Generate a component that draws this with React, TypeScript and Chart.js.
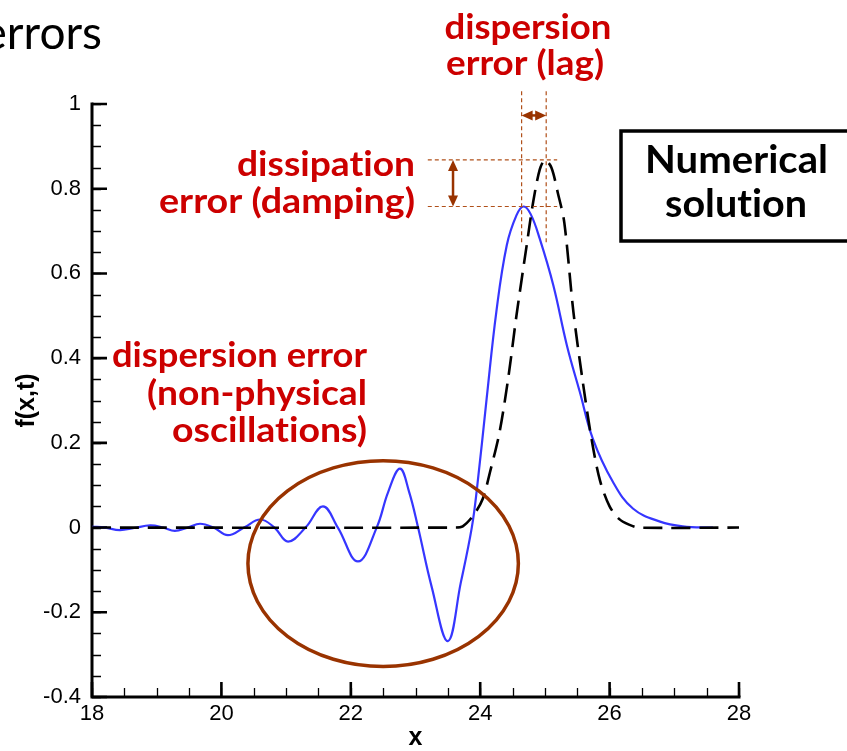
import React, { useEffect, useRef } from "react";
import { Chart, registerables } from "chart.js";
Chart.register(...registerables);

// ---- data ----
const numericalX = [18.0, 18.2, 18.43, 18.65, 18.9, 19.1, 19.28, 19.48, 19.67, 19.88, 20.1, 20.35, 20.6, 20.82, 21.03, 21.3, 21.57, 21.8, 22.11, 22.4, 22.58, 22.76, 22.9, 23.04, 23.25, 23.5, 23.7, 23.87, 23.95, 24.1, 24.25, 24.41, 24.56, 24.67, 24.78, 24.92, 25.13, 25.34, 25.54, 25.74, 26.05, 26.36, 26.78, 27.13, 27.6];
const numericalY = [0.002, 0.0, -0.006, -0.001, 0.005, 0.0, -0.008, 0.0, 0.009, 0.0, -0.018, 0.0, 0.019, 0.0, -0.033, 0.0, 0.05, 0.0, -0.08, 0.0, 0.085, 0.139, 0.085, 0.0, -0.14, -0.268, -0.13, 0.0, 0.092, 0.305, 0.51, 0.666, 0.737, 0.758, 0.74, 0.682, 0.572, 0.43, 0.32, 0.21, 0.108, 0.045, 0.014, 0.003, 0.0];
const exactX = [18, 23.6, 23.73, 23.9, 24.04, 24.15, 24.3, 24.44, 24.56, 24.72, 24.82, 24.92, 25.0, 25.1, 25.2, 25.3, 25.44, 25.58, 25.72, 25.85, 26.0, 26.15, 26.3, 26.45, 28];
const exactY = [0, 0, 0.003, 0.03, 0.068, 0.13, 0.226, 0.36, 0.5, 0.668, 0.77, 0.845, 0.868, 0.85, 0.79, 0.72, 0.51, 0.35, 0.21, 0.112, 0.05, 0.02, 0.007, 0, 0];

const xTickValues = [18, 20, 22, 24, 26, 28];
const yTickValues = [-0.4, -0.2, 0, 0.2, 0.4, 0.6, 0.8, 1];
const X_MIN = 18, X_MAX = 28, X_MINOR = 0.5;
const Y_MIN = -0.4, Y_MAX = 1, Y_MINOR = 0.05;

// annotation anchors in data units
const ellipseCenter = [22.5, -0.085];
const ellipseRadii = [2.09, 0.243];
const peakExact = 0.868;
const peakNumerical = 0.758;
const peakExactX = 25.02;
const peakNumericalX = 24.64;

const TICK_FONT = "'Liberation Sans', Arial, sans-serif";
const RED = "#cc0000";
const BROWN = "#993300";

function noLig(t: string) {
  return t.replace(/t(?=i)/g, "t\u200C").replace(/f(?=[il])/g, "f\u200C");
}

function fitText(ctx: CanvasRenderingContext2D, text: string, x: number, y: number, align: string, width: number, font: string, color: string) {
  ctx.save();
  ctx.font = font;
  ctx.fillStyle = color;
  ctx.textAlign = "left";
  ctx.textBaseline = "alphabetic";
  const s = noLig(text);
  const w = ctx.measureText(s).width;
  const sx = width / w;
  const left = align === "right" ? x - width : align === "center" ? x - width / 2 : x;
  ctx.translate(left, y);
  ctx.scale(sx, 1);
  ctx.fillText(s, 0, 0);
  ctx.restore();
}

function arrowHead(ctx: CanvasRenderingContext2D, tipX: number, tipY: number, dx: number, dy: number, len: number, half: number) {
  const px = -dy, py = dx;
  ctx.beginPath();
  ctx.moveTo(tipX, tipY);
  ctx.lineTo(tipX - dx * len + px * half, tipY - dy * len + py * half);
  ctx.lineTo(tipX - dx * len - px * half, tipY - dy * len - py * half);
  ctx.closePath();
  ctx.fill();
}

function doubleArrow(ctx: CanvasRenderingContext2D, x1: number, y1: number, x2: number, y2: number) {
  const L = Math.hypot(x2 - x1, y2 - y1);
  const dx = (x2 - x1) / L, dy = (y2 - y1) / L;
  ctx.save();
  ctx.strokeStyle = BROWN;
  ctx.fillStyle = BROWN;
  ctx.lineWidth = 2.5;
  ctx.beginPath();
  ctx.moveTo(x1 + dx * 6, y1 + dy * 6);
  ctx.lineTo(x2 - dx * 6, y2 - dy * 6);
  ctx.stroke();
  arrowHead(ctx, x2, y2, dx, dy, 11, 5);
  arrowHead(ctx, x1, y1, -dx, -dy, 11, 5);
  ctx.restore();
}

const axesPlugin = {
  id: "axesInward",
  beforeDatasetsDraw(chart: any) {
    const { ctx, chartArea: ca, scales } = chart;
    const xs = scales.x, ys = scales.y;
    ctx.save();
    ctx.strokeStyle = "#000";
    // minor ticks
    ctx.lineWidth = 1.3;
    ctx.beginPath();
    for (let v = X_MIN; v <= X_MAX + 1e-9; v += X_MINOR) {
      const p = Math.round(xs.getPixelForValue(v)) + 0.5;
      ctx.moveTo(p, ca.bottom);
      ctx.lineTo(p, ca.bottom - 9);
    }
    for (let v = Y_MIN; v <= Y_MAX + 1e-9; v += Y_MINOR) {
      const p = Math.round(ys.getPixelForValue(v)) + 0.5;
      ctx.moveTo(ca.left, p);
      ctx.lineTo(ca.left + 9, p);
    }
    ctx.stroke();
    // major ticks
    ctx.lineWidth = 2.6;
    ctx.beginPath();
    xTickValues.forEach((v) => {
      const p = xs.getPixelForValue(v);
      ctx.moveTo(p, ca.bottom);
      ctx.lineTo(p, ca.bottom - 15);
    });
    yTickValues.forEach((v) => {
      const p = ys.getPixelForValue(v);
      ctx.moveTo(ca.left, p);
      ctx.lineTo(ca.left + 15, p);
    });
    ctx.stroke();
    // axis lines
    ctx.lineWidth = 3;
    ctx.lineCap = "square";
    ctx.beginPath();
    ctx.moveTo(ca.left, ca.top);
    ctx.lineTo(ca.left, ca.bottom);
    ctx.lineTo(ca.right, ca.bottom);
    ctx.stroke();
    ctx.restore();
  },
  afterDatasetsDraw(chart: any) {
    const { ctx, scales } = chart;
    const xs = scales.x, ys = scales.y;
    const X = (v: number) => xs.getPixelForValue(v);
    const Y = (v: number) => ys.getPixelForValue(v);
    ctx.save();

    // ellipse around oscillations
    const cx = X(ellipseCenter[0]), cy = Y(ellipseCenter[1]);
    const rx = X(ellipseCenter[0] + ellipseRadii[0]) - cx;
    const ry = Y(ellipseCenter[1] - ellipseRadii[1]) - cy;
    ctx.strokeStyle = BROWN;
    ctx.lineWidth = 3.5;
    ctx.beginPath();
    ctx.ellipse(cx, cy, rx, ry, 0, 0, Math.PI * 2);
    ctx.stroke();

    // guide lines (thin dashed)
    ctx.strokeStyle = "#b0501a";
    ctx.lineWidth = 1.2;
    ctx.setLineDash([4, 3]);
    ctx.beginPath();
    const hx1 = X(23.19), hx2 = X(25.19);
    ctx.moveTo(hx1, Y(peakExact)); ctx.lineTo(hx2, Y(peakExact));
    ctx.moveTo(hx1, Y(peakNumerical)); ctx.lineTo(hx2, Y(peakNumerical));
    const vy1 = Y(1.03), vy2 = Y(0.67);
    ctx.moveTo(X(peakNumericalX), vy1); ctx.lineTo(X(peakNumericalX), vy2);
    ctx.moveTo(X(peakExactX), vy1); ctx.lineTo(X(peakExactX), vy2);
    ctx.stroke();
    ctx.setLineDash([]);

    // arrows
    doubleArrow(ctx, X(23.58), Y(peakExact), X(23.58), Y(peakNumerical));
    doubleArrow(ctx, X(peakNumericalX), Y(0.973), X(peakExactX), Y(0.973));

    // red annotations
    const redFont = "bold 35px Lato, 'Open Sans', sans-serif";
    fitText(ctx, "dissipation", 415, 176, "right", 178, redFont, RED);
    fitText(ctx, "error (damping)", 415, 213, "right", 256, redFont, RED);
    fitText(ctx, "dispersion error", 367, 367, "right", 255, redFont, RED);
    fitText(ctx, "(non-physical", 367, 405, "right", 220, redFont, RED);
    fitText(ctx, "oscillations)", 367, 442, "right", 195, redFont, RED);
    fitText(ctx, "dispersion", 528, 39, "center", 167, redFont, RED);
    fitText(ctx, "error (lag)", 525, 75, "center", 158, redFont, RED);

    // Numerical solution box
    ctx.strokeStyle = "#000";
    ctx.lineWidth = 3.5;
    ctx.strokeRect(621, 131, 260, 110);
    const blkFont = "bold 39px Lato, 'Open Sans', sans-serif";
    fitText(ctx, "Numerical", 736.5, 173, "center", 183, blkFont, "#000");
    fitText(ctx, "solution", 736, 217, "center", 142, blkFont, "#000");

    // slide title fragment
    ctx.font = "46px Lato, 'Open Sans', sans-serif";
    ctx.fillStyle = "#000";
    ctx.textAlign = "right";
    ctx.textBaseline = "alphabetic";
    ctx.fillText("errors", 102, 49);
    ctx.restore();
  },
};

export default function App() {
  const ref = useRef<HTMLCanvasElement | null>(null);
  useEffect(() => {
    if (!ref.current) return;
    const numerical = numericalX.map((x, i) => ({ x, y: numericalY[i] }));
    const exact = exactX.map((x, i) => ({ x, y: exactY[i] }));
    const chart = new Chart(ref.current, {
      type: "line",
      data: {
        datasets: [
          {
            label: "exact",
            data: exact,
            borderColor: "#000",
            borderWidth: 2.6,
            borderDash: [19, 9],
            pointRadius: 0,
            tension: 0.3,
            order: 0,
          },
          {
            label: "numerical",
            data: numerical,
            borderColor: "#3636ff",
            borderWidth: 2.2,
            pointRadius: 0,
            tension: 0.4,
            order: 1,
          },
        ],
      },
      options: {
        responsive: false,
        animation: false,
        events: [],
        layout: { padding: { left: 8, top: 104, right: 108, bottom: 0 } },
        plugins: { legend: { display: false }, tooltip: { enabled: false } },
        scales: {
          x: {
            type: "linear",
            min: X_MIN,
            max: X_MAX,
            grid: { display: false, drawTicks: false },
            border: { display: false },
            afterBuildTicks: (s: any) => { s.ticks = xTickValues.map((v) => ({ value: v })); },
            afterFit: (s: any) => { s.height = 54; },
            ticks: {
              color: "#000",
              padding: 4,
              maxRotation: 0,
              autoSkip: false,
              font: { family: TICK_FONT, size: 22 },
              callback: (v: any) => String(v),
            },
            title: {
              display: true,
              text: "x",
              color: "#000",
              padding: { top: 0, bottom: 0 },
              font: { family: TICK_FONT, size: 25, weight: "bold", lineHeight: 1 },
            },
          },
          y: {
            type: "linear",
            min: Y_MIN,
            max: Y_MAX,
            grid: { display: false, drawTicks: false },
            border: { display: false },
            afterBuildTicks: (s: any) => { s.ticks = yTickValues.map((v) => ({ value: v })); },
            afterFit: (s: any) => { s.width = 84; },
            ticks: {
              color: "#000",
              padding: 11,
              autoSkip: false,
              font: { family: TICK_FONT, size: 22 },
              callback: (v: any) => String(v),
            },
            title: {
              display: true,
              text: "f(x,t)",
              color: "#000",
              padding: { top: 4, bottom: 0 },
              font: { family: TICK_FONT, size: 25, weight: "bold", lineHeight: 1.2 },
            },
          },
        },
      },
      plugins: [axesPlugin],
    });
    return () => chart.destroy();
  }, []);
  return (
    <div style={{ position: "absolute", left: 0, top: 0, width: 847, height: 751 }}>
      <canvas ref={ref} width={847} height={751} />
    </div>
  );
}
